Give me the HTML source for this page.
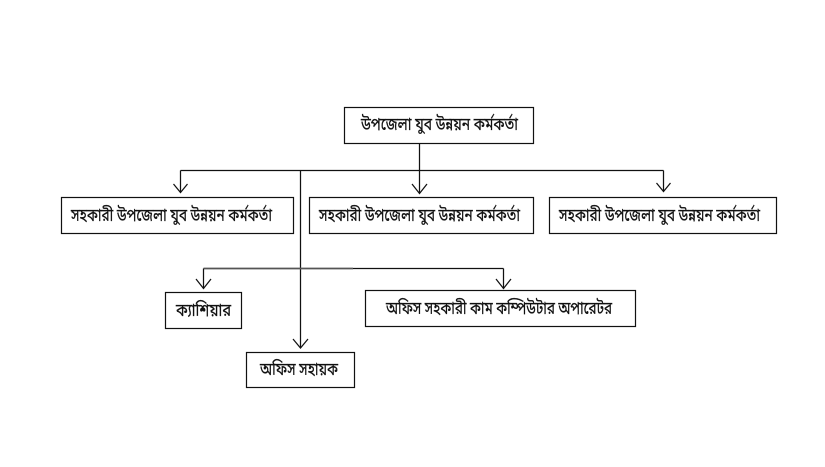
<!DOCTYPE html>
<html lang="bn">
<head>
<meta charset="utf-8">
<title>সাংগঠনিক কাঠামো</title>
<style>
html,body{margin:0;padding:0;background:#fff;width:825px;height:467px;overflow:hidden}
svg{display:block}
text{font-family:"Noto Sans Bengali","Lohit Bengali","FreeSerif","Liberation Sans",sans-serif;font-size:17.5px;fill:#111;stroke:#111;stroke-width:.25}
.b{fill:#fff;stroke:#111;stroke-width:1.2}
.l{fill:none;stroke:#111;stroke-width:1.25}
</style>
</head>
<body>
<svg width="825" height="467" viewBox="0 0 825 467" xmlns="http://www.w3.org/2000/svg">
<rect class="b" x="344.5" y="107.5" width="189" height="36"/>
<rect class="b" x="61.5" y="197.5" width="232" height="36"/>
<rect class="b" x="309.5" y="197.5" width="224" height="36"/>
<rect class="b" x="549.5" y="197.5" width="227" height="36"/>
<rect class="b" x="165.5" y="292.5" width="76" height="36"/>
<rect class="b" x="365.5" y="290.5" width="270" height="36"/>
<rect class="b" x="246.5" y="352.5" width="108" height="35"/>

<path class="l" d="M419.5 143V193M180.5 170.5H663.5M180.5 170.5V192M663.5 170.5V191M300.5 170.5V347"/>
<path class="l" d="M173.5 184L180.5 192.5L187.5 184M412 184L419.5 193.5L427 184M656.5 183L663.5 191.5L670.5 183M293 339L300.5 348L308 339"/>
<path d="M203.5 268.5H353" fill="none" stroke="#555" stroke-width="1.8"/>
<path class="l" d="M353 268.5H503.5M203.5 268.5V288M503.5 268.5V288"/>
<path class="l" d="M196 279L203.5 288.5L211 279M496 279L503.5 288.5L511 279"/>

<text x="361" y="130" textLength="157" lengthAdjust="spacingAndGlyphs">উপজেলা যুব উন্নয়ন কর্মকর্তা</text>
<text x="71" y="221" textLength="201" lengthAdjust="spacingAndGlyphs">সহকারী উপজেলা যুব উন্নয়ন কর্মকর্তা</text>
<text x="319" y="221" textLength="201" lengthAdjust="spacingAndGlyphs">সহকারী উপজেলা যুব উন্নয়ন কর্মকর্তা</text>
<text x="559" y="221" textLength="201" lengthAdjust="spacingAndGlyphs">সহকারী উপজেলা যুব উন্নয়ন কর্মকর্তা</text>
<text x="176" y="316" textLength="55" lengthAdjust="spacingAndGlyphs">ক্যাশিয়ার</text>
<text x="386" y="314" textLength="226" lengthAdjust="spacingAndGlyphs">অফিস সহকারী কাম কম্পিউটার অপারেটর</text>
<text x="260" y="375" textLength="78" lengthAdjust="spacingAndGlyphs">অফিস সহায়ক</text>
</svg>
</body>
</html>
